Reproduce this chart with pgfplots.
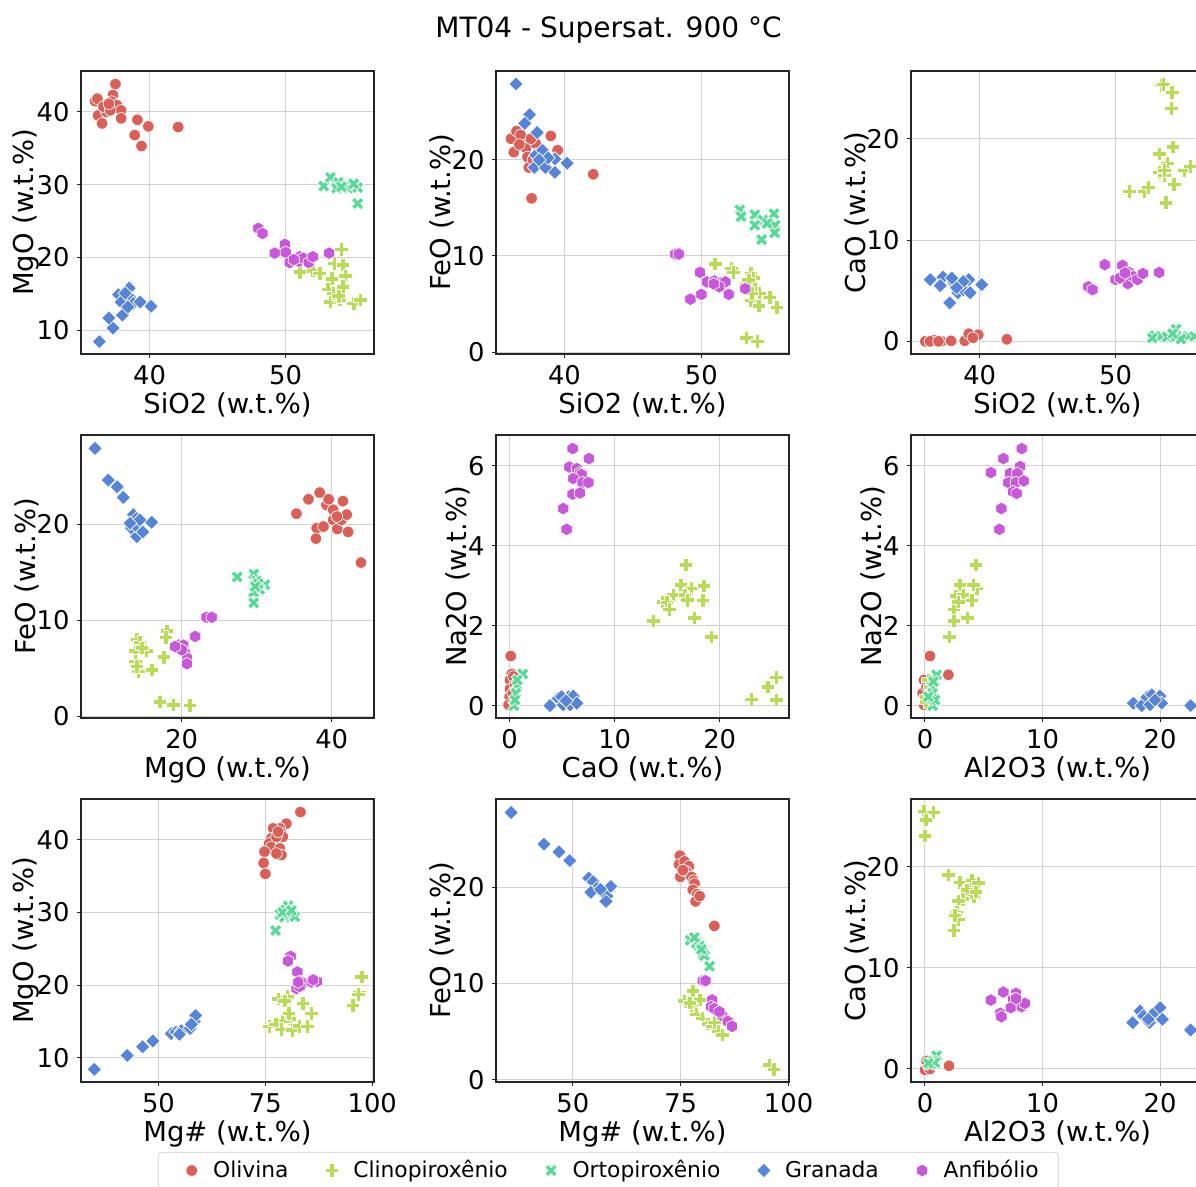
\documentclass[border=0pt]{standalone}
\usepackage{pgfplots}
\pgfplotsset{compat=1.18}
\usepackage{fontspec}
\setmainfont{DejaVu Sans}
\definecolor{cO}{HTML}{DB5F57}
\definecolor{cC}{HTML}{B9DB57}
\definecolor{cX}{HTML}{57DB94}
\definecolor{cG}{HTML}{5784DB}
\definecolor{cA}{HTML}{C957DB}
\newcommand\ticksize{\fontsize{12.9}{15}\selectfont}
\newcommand\labsize{\fontsize{13.7}{16}\selectfont}
\newcommand\legsize{\fontsize{10.9}{13}\selectfont}
\newcommand\titsize{\fontsize{14}{17}\selectfont}
\pgfdeclareplotmark{Pfill}{%
  \pgfpathmoveto{\pgfpoint{-0.333\pgfplotmarksize}{-\pgfplotmarksize}}%
  \pgfpathlineto{\pgfpoint{0.333\pgfplotmarksize}{-\pgfplotmarksize}}%
  \pgfpathlineto{\pgfpoint{0.333\pgfplotmarksize}{-0.333\pgfplotmarksize}}%
  \pgfpathlineto{\pgfpoint{\pgfplotmarksize}{-0.333\pgfplotmarksize}}%
  \pgfpathlineto{\pgfpoint{\pgfplotmarksize}{0.333\pgfplotmarksize}}%
  \pgfpathlineto{\pgfpoint{0.333\pgfplotmarksize}{0.333\pgfplotmarksize}}%
  \pgfpathlineto{\pgfpoint{0.333\pgfplotmarksize}{\pgfplotmarksize}}%
  \pgfpathlineto{\pgfpoint{-0.333\pgfplotmarksize}{\pgfplotmarksize}}%
  \pgfpathlineto{\pgfpoint{-0.333\pgfplotmarksize}{0.333\pgfplotmarksize}}%
  \pgfpathlineto{\pgfpoint{-\pgfplotmarksize}{0.333\pgfplotmarksize}}%
  \pgfpathlineto{\pgfpoint{-\pgfplotmarksize}{-0.333\pgfplotmarksize}}%
  \pgfpathlineto{\pgfpoint{-0.333\pgfplotmarksize}{-0.333\pgfplotmarksize}}%
  \pgfpathclose\pgfusepathqfillstroke}
\pgfdeclareplotmark{Xfill}{%
  \pgfpathmoveto{\pgfpoint{-0.5\pgfplotmarksize}{-\pgfplotmarksize}}%
  \pgfpathlineto{\pgfpoint{0pt}{-0.5\pgfplotmarksize}}%
  \pgfpathlineto{\pgfpoint{0.5\pgfplotmarksize}{-\pgfplotmarksize}}%
  \pgfpathlineto{\pgfpoint{\pgfplotmarksize}{-0.5\pgfplotmarksize}}%
  \pgfpathlineto{\pgfpoint{0.5\pgfplotmarksize}{0pt}}%
  \pgfpathlineto{\pgfpoint{\pgfplotmarksize}{0.5\pgfplotmarksize}}%
  \pgfpathlineto{\pgfpoint{0.5\pgfplotmarksize}{\pgfplotmarksize}}%
  \pgfpathlineto{\pgfpoint{0pt}{0.5\pgfplotmarksize}}%
  \pgfpathlineto{\pgfpoint{-0.5\pgfplotmarksize}{\pgfplotmarksize}}%
  \pgfpathlineto{\pgfpoint{-\pgfplotmarksize}{0.5\pgfplotmarksize}}%
  \pgfpathlineto{\pgfpoint{-0.5\pgfplotmarksize}{0pt}}%
  \pgfpathlineto{\pgfpoint{-\pgfplotmarksize}{-0.5\pgfplotmarksize}}%
  \pgfpathclose\pgfusepathqfillstroke}
\pgfdeclareplotmark{Hfill}{%
  \pgfpathmoveto{\pgfpoint{0pt}{\pgfplotmarksize}}%
  \pgfpathlineto{\pgfpoint{0.866\pgfplotmarksize}{0.5\pgfplotmarksize}}%
  \pgfpathlineto{\pgfpoint{0.866\pgfplotmarksize}{-0.5\pgfplotmarksize}}%
  \pgfpathlineto{\pgfpoint{0pt}{-\pgfplotmarksize}}%
  \pgfpathlineto{\pgfpoint{-0.866\pgfplotmarksize}{-0.5\pgfplotmarksize}}%
  \pgfpathlineto{\pgfpoint{-0.866\pgfplotmarksize}{0.5\pgfplotmarksize}}%
  \pgfpathclose\pgfusepathqfillstroke}
\pgfdeclareplotmark{Dfill}{%
  \pgfpathmoveto{\pgfpoint{0pt}{\pgfplotmarksize}}%
  \pgfpathlineto{\pgfpoint{\pgfplotmarksize}{0pt}}%
  \pgfpathlineto{\pgfpoint{0pt}{-\pgfplotmarksize}}%
  \pgfpathlineto{\pgfpoint{-\pgfplotmarksize}{0pt}}%
  \pgfpathclose\pgfusepathqfillstroke}
\pgfplotsset{
  oliv/.style={only marks, color=cO, mark=*, mark size=2.9pt, mark options={fill=cO, draw=white, line width=0.35pt}},
  cpx/.style={only marks, color=cC, mark=Pfill, mark size=3.4pt, mark options={fill=cC, draw=white, line width=0.35pt}},
  opx/.style={only marks, color=cX, mark=Xfill, mark size=3.1pt, mark options={fill=cX, draw=white, line width=0.35pt}},
  grt/.style={only marks, color=cG, mark=Dfill, mark size=3.6pt, mark options={fill=cG, draw=white, line width=0.35pt}},
  amph/.style={only marks, color=cA, mark=Hfill, mark size=3.2pt, mark options={fill=cA, draw=white, line width=0.35pt}},
  panel/.style={
    scale only axis, width=146.5pt, height=141.5pt, anchor=north west,
    axis line style={black!85, line width=0.6pt},
    grid=major, major grid style={black!18, line width=0.5pt},
    tick align=outside, tick pos=left, major tick length=2.2pt,
    tick style={black!85, line width=0.5pt},
    ticklabel style={font=\ticksize},
    label style={font=\labsize},
    xlabel shift=-3pt, ylabel shift=-8pt,
    /pgf/number format/assume math mode=true,
  },
}
\begin{document}
\begin{tikzpicture}
\path[use as bounding box] (0,0) rectangle (598pt,-593.5pt);
\node[font=\titsize] at (304.25pt,-15pt) {MT04 - Supersat. 900 °C};
% ---------- P1 SiO2 vs MgO
\begin{axis}[panel, at={(40.5pt,-35.5pt)}, xmin=34.95, xmax=56.5, ymin=6.75, ymax=45.6,
  xtick={40,50}, ytick={10,20,30,40}, xlabel={SiO2 (w.t.\%)}, ylabel={MgO (w.t.\%)}]
\addplot[oliv] coordinates {(37.48,43.8)(35.98,41.46)(36.15,41.8)(36.2,39.5)(36.5,38.4)(36.8,40.0)(37.3,42.3)(37.2,41.4)(37.6,40.9)(37.9,40.2)(37.9,39.1)(39.1,38.9)(39.9,38.0)(38.9,36.8)(39.4,35.3)(42.1,37.9)(36.6,40.7)(37.1,40.2)(37.0,41.1)};
\addplot[cpx] coordinates {(54.1,21.1)(51.05,18.0)(52.0,18.2)(52.5,17.8)(53.6,19.2)(54.2,19.0)(53.4,17.1)(54.4,17.5)(53.1,15.6)(53.9,15.2)(54.2,16.0)(53.3,13.9)(54.0,14.2)(55.0,13.7)(55.5,14.2)(53.5,15.1)(53.9,14.7)};
\addplot[opx] coordinates {(52.8,29.8)(53.3,31.0)(53.9,30.3)(54.5,29.9)(53.75,29.5)(54.6,29.5)(55.3,29.6)(55.3,27.4)(55.0,30.1)(54.1,29.7)};
\addplot[grt] coordinates {(36.3,8.45)(37.3,10.3)(37.0,11.7)(38.0,12.1)(37.7,14.9)(38.5,15.8)(37.9,13.9)(38.6,14.4)(38.8,13.7)(39.3,13.9)(40.1,13.3)(38.2,15.1)(38.4,13.2)};
\addplot[amph] coordinates {(47.99,24.0)(48.3,23.3)(49.95,21.8)(50.0,20.7)(49.2,20.6)(50.3,19.3)(51.05,20.1)(50.98,19.5)(51.3,19.9)(51.7,19.3)(52.0,20.1)(53.2,20.6)(50.6,19.7)};
\end{axis}
% ---------- P2 SiO2 vs FeO
\begin{axis}[panel, at={(248pt,-35.5pt)}, xmin=35.0, xmax=56.4, ymin=-0.2, ymax=29.25,
  xtick={40,50}, ytick={0,10,20}, xlabel={SiO2 (w.t.\%)}, ylabel={FeO (w.t.\%)}]
\addplot[oliv] coordinates {(36.1,22.2)(36.5,23.0)(36.3,20.8)(36.9,22.0)(37.2,21.2)(37.3,20.3)(37.4,19.2)(37.6,16.0)(37.9,21.7)(39.0,22.5)(39.5,21.0)(42.1,18.5)(36.8,22.6)(37.7,20.0)(36.7,21.6)(37.55,22.2)};
\addplot[cpx] coordinates {(51.0,9.2)(52.2,8.7)(52.35,8.3)(53.6,8.2)(53.8,7.7)(53.3,7.1)(53.9,6.6)(54.25,6.1)(53.6,5.4)(54.2,4.8)(55.0,5.7)(55.5,4.65)(53.3,1.5)(54.1,1.1)(53.7,6.1)(53.45,7.5)};
\addplot[opx] coordinates {(52.8,14.8)(52.9,14.1)(53.9,14.3)(54.5,13.75)(53.9,13.2)(55.3,14.4)(55.4,13.2)(55.35,12.4)(54.4,11.7)(54.8,13.4)};
\addplot[grt] coordinates {(36.46,27.9)(37.45,24.7)(37.1,23.8)(38.0,22.85)(37.9,20.5)(38.4,21.0)(37.8,19.2)(38.6,19.2)(39.3,20.1)(39.3,18.7)(40.2,19.65)(38.8,20.2)(38.15,20.0)};
\addplot[amph] coordinates {(48.1,10.2)(48.35,10.2)(49.9,8.3)(49.2,5.5)(50.0,6.0)(50.4,7.3)(50.95,7.4)(51.4,7.2)(51.75,7.3)(52.0,6.0)(53.2,6.6)(51.3,6.8)(50.9,7.1)};
\end{axis}
% ---------- P3 SiO2 vs CaO
\begin{axis}[panel, at={(455.5pt,-35.5pt)}, xmin=34.95, xmax=56.5, ymin=-1.25, ymax=26.7,
  xtick={40,50}, ytick={0,10,20}, xlabel={SiO2 (w.t.\%)}, ylabel={CaO (w.t.\%)}]
\addplot[oliv] coordinates {(36.0,0.0)(36.6,0.1)(37.2,0.0)(37.9,0.05)(38.9,0.05)(39.2,0.75)(39.9,0.65)(39.5,0.35)(42.0,0.2)(36.35,0.0)(36.97,0.0)};
\addplot[cpx] coordinates {(53.35,25.3)(53.5,25.4)(54.15,24.6)(54.1,23.0)(53.2,18.5)(54.2,19.2)(53.8,17.6)(53.2,16.7)(53.6,16.4)(55.06,16.9)(55.5,17.3)(54.3,15.5)(53.7,13.7)(51.0,14.8)(52.1,14.8)(52.4,15.2)(53.6,16.9)};
\addplot[opx] coordinates {(52.9,0.56)(53.35,0.49)(53.8,0.43)(54.45,1.2)(54.45,0.49)(55.3,0.49)(55.8,0.49)(54.8,0.23)(52.7,0.33)(54.2,0.76)};
\addplot[grt] coordinates {(36.36,6.1)(37.3,6.35)(37.1,5.5)(37.8,3.8)(38.1,5.8)(38.4,4.8)(38.8,5.1)(39.2,6.1)(39.3,4.8)(40.15,5.6)(38.8,5.9)(38.3,5.3)(37.95,6.25)};
\addplot[amph] coordinates {(49.2,7.57)(48.0,5.4)(48.3,5.1)(50.0,6.1)(50.5,7.5)(50.9,5.7)(51.0,6.8)(51.3,6.4)(51.6,6.1)(52.0,6.7)(53.2,6.8)(50.3,6.25)(50.7,6.75)};
\end{axis}
% ---------- P4 MgO vs FeO
\begin{axis}[panel, at={(40.5pt,-217.5pt)}, xmin=6.57, xmax=45.64, ymin=-0.2, ymax=29.3,
  xtick={20,40}, ytick={0,10,20}, xlabel={MgO (w.t.\%)}, ylabel={FeO (w.t.\%)}]
\addplot[oliv] coordinates {(35.3,21.1)(36.9,22.6)(38.4,23.3)(38.0,19.6)(37.9,18.5)(38.9,19.75)(39.3,22.0)(39.6,22.6)(40.2,21.5)(40.2,20.45)(40.75,19.5)(41.5,22.4)(41.3,20.45)(42.0,21.0)(42.2,19.2)(43.9,16.0)(40.7,20.8)};
\addplot[cpx] coordinates {(14.0,8.0)(14.4,7.7)(15.3,6.8)(13.8,6.8)(13.8,5.7)(14.2,4.65)(16.0,4.8)(17.6,6.15)(18.0,8.9)(17.9,8.2)(17.1,1.5)(18.9,1.15)(21.1,1.1)(14.7,7.1)(14.0,5.2)};
\addplot[opx] coordinates {(27.4,14.5)(29.6,14.8)(30.0,14.1)(31.1,13.7)(30.4,13.2)(29.6,12.9)(29.6,11.8)(30.2,13.8)(29.8,13.5)};
\addplot[grt] coordinates {(8.44,27.9)(10.2,24.6)(11.4,23.9)(12.2,22.8)(13.55,21.0)(14.0,20.6)(13.3,19.6)(14.0,18.7)(14.8,19.2)(16.0,20.2)(13.8,19.9)(14.4,20.45)(13.1,20.1)};
\addplot[amph] coordinates {(23.3,10.3)(24.0,10.3)(21.8,8.3)(19.6,7.4)(20.2,7.4)(20.4,6.6)(20.7,6.05)(20.7,5.45)(20.0,6.9)(19.1,7.25)};
\end{axis}
% ---------- P5 CaO vs Na2O
\begin{axis}[panel, at={(248pt,-217.5pt)}, xmin=-1.3, xmax=26.6, ymin=-0.31, ymax=6.77,
  xtick={0,10,20}, ytick={0,2,4,6}, xlabel={CaO (w.t.\%)}, ylabel={Na2O (w.t.\%)}]
\addplot[oliv] coordinates {(0.1,1.24)(0.2,0.79)(0.03,0.64)(0.03,0.41)(0.0,0.22)(-0.1,0.02)(0.5,0.52)(0.35,0.73)(0.3,0.31)};
\addplot[cpx] coordinates {(16.76,3.52)(16.3,3.02)(17.3,2.93)(18.5,3.0)(15.6,2.77)(16.7,2.77)(14.6,2.6)(14.95,2.58)(15.2,2.41)(18.4,2.63)(17.6,2.2)(13.7,2.12)(19.2,1.72)(23.0,0.16)(24.6,0.47)(25.4,0.71)(25.4,0.14)(16.9,2.64)};
\addplot[opx] coordinates {(1.24,0.79)(0.67,0.52)(0.6,0.31)(0.4,0.0)(0.5,0.14)(0.73,0.64)};
\addplot[grt] coordinates {(3.84,0.0)(4.63,0.18)(5.1,0.02)(5.6,0.22)(6.06,0.24)(5.75,0.02)(6.4,0.06)(4.95,0.22)(5.37,0.12)};
\addplot[amph] coordinates {(6.0,6.43)(7.55,6.18)(5.68,5.97)(6.4,5.93)(6.7,5.82)(6.86,5.78)(6.06,5.68)(6.95,5.58)(7.5,5.58)(6.0,5.29)(6.7,5.32)(5.1,4.93)(5.43,4.41)};
\end{axis}
% ---------- P6 Al2O3 vs Na2O
\begin{axis}[panel, at={(455.5pt,-217.5pt)}, xmin=-1.19, xmax=23.74, ymin=-0.31, ymax=6.77,
  xtick={0,10,20}, ytick={0,2,4,6}, xlabel={Al2O3 (w.t.\%)}, ylabel={Na2O (w.t.\%)}]
\addplot[oliv] coordinates {(0.43,1.24)(1.99,0.77)(-0.09,0.64)(-0.2,0.31)(-0.09,0.02)(0.14,0.47)};
\addplot[cpx] coordinates {(4.34,3.52)(2.98,3.02)(4.4,2.93)(2.64,2.74)(3.26,2.77)(3.97,2.63)(2.47,2.41)(2.47,2.12)(3.6,2.2)(2.07,1.72)(4.11,3.02)(2.84,2.6)(0.28,0.64)(0.14,0.22)(0.08,0.1)(0.43,0.47)};
\addplot[opx] coordinates {(0.99,0.77)(0.57,0.47)(0.65,0.31)(0.65,0.0)(0.85,0.14)(0.28,0.22)(0.71,0.6)};
\addplot[grt] coordinates {(17.73,0.06)(18.44,0.0)(18.87,0.21)(19.3,0.27)(19.15,0.02)(20.0,0.24)(20.14,0.06)(22.6,0.0)(19.57,0.14)};
\addplot[amph] coordinates {(8.23,6.43)(6.67,6.18)(5.6,5.83)(8.1,5.98)(7.23,5.81)(7.86,5.81)(7.1,5.58)(7.74,5.58)(8.4,5.62)(7.5,5.35)(7.8,5.31)(6.5,4.93)(6.33,4.41)};
\end{axis}
% ---------- P7 Mg# vs MgO
\begin{axis}[panel, at={(40.5pt,-399.5pt)}, xmin=31.9, xmax=100.4, ymin=6.65, ymax=45.6,
  xtick={50,75,100}, ytick={10,20,30,40}, xlabel={Mg\# (w.t.\%)}, ylabel={MgO (w.t.\%)}]
\addplot[oliv] coordinates {(83.2,43.8)(79.9,42.2)(78.4,41.55)(76.8,41.55)(78.75,40.9)(79.1,40.4)(76.4,40.2)(75.9,39.5)(76.4,39.0)(78.4,38.8)(74.8,38.35)(78.75,37.9)(77.6,38.1)(74.6,36.8)(75.0,35.3)(77.6,40.4)(78.0,41.1)};
\addplot[cpx] coordinates {(97.5,21.1)(97.0,18.9)(96.7,18.7)(95.5,17.2)(78.0,18.1)(80.1,18.4)(79.5,17.8)(83.8,17.5)(85.8,16.1)(80.7,15.35)(79.0,15.0)(75.9,14.3)(77.4,14.6)(78.75,13.9)(81.3,13.8)(82.9,14.35)(84.8,14.3)(80.5,16.1)};
\addplot[opx] coordinates {(80.3,30.9)(79.8,30.35)(78.4,29.7)(79.5,29.35)(80.7,29.7)(81.9,29.4)(77.4,27.5)(79.0,30.0)(81.1,30.25)};
\addplot[grt] coordinates {(35.0,8.4)(42.7,10.3)(46.3,11.5)(48.7,12.3)(53.0,13.3)(54.1,13.5)(55.3,13.7)(57.4,14.0)(58.4,15.0)(58.7,15.8)(54.9,13.2)(57.7,14.6)};
\addplot[amph] coordinates {(80.9,23.95)(80.3,23.3)(82.5,21.8)(83.0,20.5)(83.8,20.3)(85.8,20.4)(87.1,20.5)(82.3,19.5)(83.0,19.8)(86.2,20.7)(82.7,20.4)};
\end{axis}
% ---------- P8 Mg# vs FeO (legend)
\begin{axis}[panel, at={(248pt,-399.5pt)}, xmin=32.2, xmax=100.1, ymin=-0.24, ymax=29.2,
  xtick={50,75,100}, ytick={0,10,20}, xlabel={Mg\# (w.t.\%)}, ylabel={FeO (w.t.\%)},
  legend columns=5, legend cell align=left,
  legend image code/.code={\path (0pt,0pt) (17pt,0pt); \draw[#1] plot coordinates {(8.5pt,0pt)};},
  legend style={at={(0.384,-0.247)}, anchor=north, draw=black!20, rounded corners=2pt,
    font=\legsize, inner xsep=8pt, inner ysep=2pt,
    /tikz/every even column/.append style={column sep=11pt}}]
\addplot[oliv] coordinates {(74.8,23.3)(74.6,22.4)(74.9,21.1)(75.9,22.7)(76.9,22.2)(76.3,21.65)(77.5,21.1)(78.0,20.7)(78.2,20.4)(77.8,19.76)(78.8,19.3)(78.45,18.55)(79.4,19.1)(82.8,16.0)(75.5,21.8)};
\addplot[cpx] coordinates {(77.8,9.24)(75.9,8.2)(79.4,8.3)(77.45,7.7)(78.6,6.8)(80.0,6.4)(81.3,5.8)(82.4,5.55)(83.6,5.1)(84.6,4.65)(82.8,5.97)(95.5,1.55)(96.6,1.07)(77.1,8.0)};
\addplot[opx] coordinates {(77.2,14.5)(78.6,14.2)(79.4,13.9)(80.1,13.2)(80.5,12.9)(81.7,11.8)(78.2,14.8)(79.8,13.55)};
\addplot[grt] coordinates {(35.7,27.8)(43.3,24.5)(46.8,23.7)(49.3,22.8)(53.7,20.97)(54.7,20.6)(55.6,19.9)(54.2,19.5)(57.9,19.1)(57.7,18.55)(58.8,20.1)(56.4,19.8)};
\addplot[amph] coordinates {(80.1,10.3)(80.75,10.3)(82.3,8.3)(82.05,7.6)(83.2,7.2)(84.6,6.65)(85.9,6.07)(86.9,5.55)(82.8,7.4)(83.97,7.07)};
\legend{Olivina, Clinopiroxênio, Ortopiroxênio, Granada, Anfibólio}
\end{axis}
% ---------- P9 Al2O3 vs CaO
\begin{axis}[panel, at={(455.5pt,-399.5pt)}, xmin=-1.19, xmax=23.74, ymin=-1.3, ymax=26.7,
  xtick={0,10,20}, ytick={0,10,20}, xlabel={Al2O3 (w.t.\%)}, ylabel={CaO (w.t.\%)}]
\addplot[oliv] coordinates {(0.0,-0.1)(0.28,0.3)(0.14,0.79)(2.04,0.3)(0.43,0.0)};
\addplot[cpx] coordinates {(-0.09,25.46)(0.71,25.36)(0.09,24.64)(0.0,23.06)(1.99,19.2)(2.98,18.45)(3.97,18.65)(4.54,18.4)(3.55,17.73)(4.17,17.0)(3.2,16.8)(2.84,16.6)(2.7,15.5)(2.84,14.8)(2.47,13.7)(2.55,15.2)(4.34,17.5)};
\addplot[opx] coordinates {(0.99,1.3)(0.71,0.79)(0.48,0.46)(0.85,0.62)(0.28,0.56)};
\addplot[grt] coordinates {(17.67,4.57)(18.3,5.73)(18.6,5.23)(19.1,4.57)(19.43,5.49)(20.0,6.05)(20.2,4.9)(22.6,3.85)(19.0,4.9)};
\addplot[amph] coordinates {(6.67,7.6)(7.74,7.47)(5.6,6.8)(7.5,6.88)(8.1,6.55)(7.3,6.05)(6.4,5.5)(6.5,5.16)(8.23,6.15)(8.5,6.48)(7.74,6.95)};
\end{axis}
\end{tikzpicture}
\end{document}
